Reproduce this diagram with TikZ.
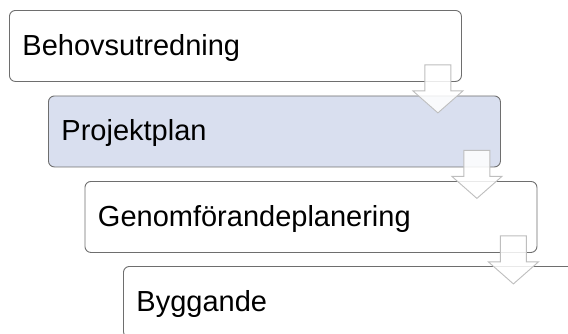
\documentclass[tikz,border=0pt]{standalone}
\usepackage{fontspec}
\setmainfont{Liberation Sans}
\usetikzlibrary{calc}
\definecolor{boxline}{RGB}{110,110,110}
\definecolor{bluefill}{RGB}{217,223,239}
\definecolor{arrline}{RGB}{190,190,190}
\tikzset{
  stagebox/.style={draw=boxline, line width=0.9pt, rounded corners=6pt, fill=white,
    anchor=north west, minimum width=452pt, minimum height=71pt,
    text width=426pt, align=left, inner xsep=13pt, inner ysep=0pt,
    text height=23pt, text depth=4pt,
    font=\fontsize{29}{34}\selectfont},
  downarrow/.style={draw=arrline, line width=0.9pt, fill=white, fill opacity=0.85, line join=miter}
}
\begin{document}
\begin{tikzpicture}[x=1pt,y=-1pt]
\useasboundingbox (0,0) rectangle (568,333);
\clip (0,0) rectangle (568,333);
\node[stagebox] (b1) at (9,10) {Behovsutredning};
\node[stagebox, fill=bluefill] (b2) at (48,95.5) {Projektplan};
\node[stagebox] (b3) at (84.5,181) {Genomförandeplanering};
\node[stagebox] (b4) at (123,266) {Byggande};
\foreach \b in {b1,b2,b3}{
  \coordinate (t\b) at ($(\b.south east)+(-24,-17)$);
  \draw[downarrow] (t\b) ++(-13,0) -- ++(0,26) -- ++(-12,0) -- ++(25,22) -- ++(25,-22) -- ++(-12,0) -- ++(0,-26) -- cycle;
}
\end{tikzpicture}
\end{document}
